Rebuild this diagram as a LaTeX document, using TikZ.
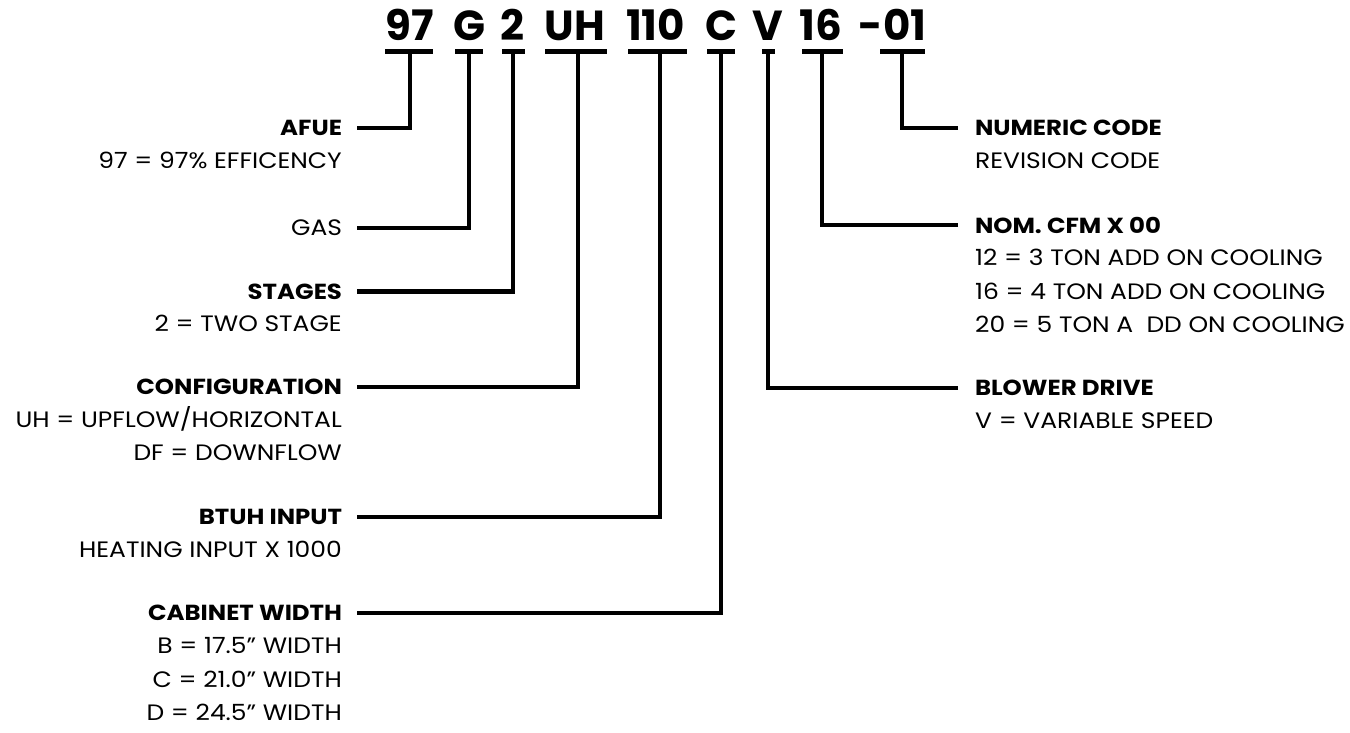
\documentclass[tikz,border=0pt]{standalone}
\usepackage{fontspec}
\setmainfont{Poppins}
\newfontfamily\wide[FakeStretch=1.12]{Poppins}
\usetikzlibrary{positioning,calc}

\begin{document}
\begin{tikzpicture}[x=1pt,y=-1pt,
	code/.style={font=\fontsize{42}{42}\selectfont\bfseries, inner sep=0pt, anchor=base},
	ltitle/.style={font=\wide\fontsize{21.8}{21.8}\selectfont\bfseries, inner sep=0pt, outer xsep=15pt, anchor=east},
	rtitle/.style={font=\wide\fontsize{21.8}{21.8}\selectfont\bfseries, inner sep=0pt, outer xsep=17pt, anchor=west},
	ldesc/.style={font=\wide\fontsize{22.3}{22.3}\selectfont, inner sep=0pt, anchor=base east},
	rdesc/.style={font=\wide\fontsize{22.3}{22.3}\selectfont, inner sep=0pt, anchor=base west},
	bar/.style={line width=5pt},
	lead/.style={line width=4.5pt}]
	\useasboundingbox (0,0) rectangle (1350,732);

	% model number
	\node[code] (c97) at (409.5,40) {97};
	\node[code] (cG) at (469,40) {G};
	\node[code] (c2) at (512.5,40) {2};
	\node[code] (cUH) at (575,40) {UH};
	\node[code] (c110) at (655.5,40) {110};
	\node[code] (cC) at (721,40) {C};
	\node[code] (cV) at (767.5,40) {V};
	\node[code] (c16) at (821,40) {16};
	\node[code] (c01) at (892.5,40) {-01};

	% bars under the code
	\draw[bar] (385,51.5) -- (433,51.5);
	\draw[bar] (455,51.5) -- (483,51.5);
	\draw[bar] (502,51.5) -- (525,51.5);
	\draw[bar] (545,51.5) -- (607,51.5);
	\draw[bar] (628,51.5) -- (687,51.5);
	\draw[bar] (707,51.5) -- (735,51.5);
	\draw[bar] (762,51.5) -- (775,51.5);
	\draw[bar] (802,51.5) -- (843,51.5);
	\draw[bar] (880,51.5) -- (925,51.5);
	\coordinate (s97) at (410,51.5);
	\coordinate (sG) at (469,51.5);
	\coordinate (s2) at (513,51.5);
	\coordinate (sUH) at (578,51.5);
	\coordinate (s110) at (660,51.5);
	\coordinate (sC) at (721,51.5);
	\coordinate (sV) at (768,51.5);
	\coordinate (s16) at (822,51.5);
	\coordinate (s01) at (902,51.5);

	% left side
	\node[ltitle] (afue) at (357,128) {AFUE};
	\node[ldesc] (afue1) at (342,168.5) {97 = 97\% EFFICENCY};
	\node[ltitle, font=\wide\fontsize{22.3}{22.3}\selectfont] (gas) at (357,228) {GAS};
	\node[ltitle] (stages) at (357,291.5) {STAGES};
	\node[ldesc] (stages1) at (342,331.5) {2 = TWO STAGE};
	\node[ltitle] (config) at (357,387) {CONFIGURATION};
	\node[ldesc] (config1) at (342,427.5) {UH = UPFLOW/HORIZONTAL};
	\node[ldesc] (config2) at (342,460.5) {DF = DOWNFLOW};
	\node[ltitle] (btuh) at (357,517) {BTUH INPUT};
	\node[ldesc] (btuh1) at (342,557.5) {HEATING INPUT X 1000};
	\node[ltitle] (cab) at (357,613) {CABINET WIDTH};
	\node[ldesc] (cab1) at (342,653.5) {B = 17.5” WIDTH};
	\node[ldesc] (cab2) at (342,687.5) {C = 21.0” WIDTH};
	\node[ldesc] (cab3) at (342,720.5) {D = 24.5” WIDTH};

	% right side
	\node[rtitle] (numeric) at (958,128) {NUMERIC CODE};
	\node[rdesc] (numeric1) at (975,168.5) {REVISION CODE};
	\node[rtitle] (cfm) at (958,225) {NOM. CFM X 00};
	\node[rdesc] (cfm1) at (975,265.5) {12 = 3 TON ADD ON COOLING};
	\node[rdesc] (cfm2) at (975,299.5) {16 = 4 TON ADD ON COOLING};
	\node[rdesc] (cfm3) at (975,332.5) {20 = 5 TON A\ \ DD ON COOLING};
	\node[rtitle] (blower) at (958,388) {BLOWER DRIVE};
	\node[rdesc] (blower1) at (975,428.5) {V = VARIABLE SPEED};

	% leaders
	\draw[lead] (afue.east) -| (s97);
	\draw[lead] (gas.east) -| (sG);
	\draw[lead] (stages.east) -| (s2);
	\draw[lead] (config.east) -| (sUH);
	\draw[lead] (btuh.east) -| (s110);
	\draw[lead] (cab.east) -| (sC);
	\draw[lead] (blower.west) -| (sV);
	\draw[lead] (cfm.west) -| (s16);
	\draw[lead] (numeric.west) -| (s01);
\end{tikzpicture}
\end{document}
